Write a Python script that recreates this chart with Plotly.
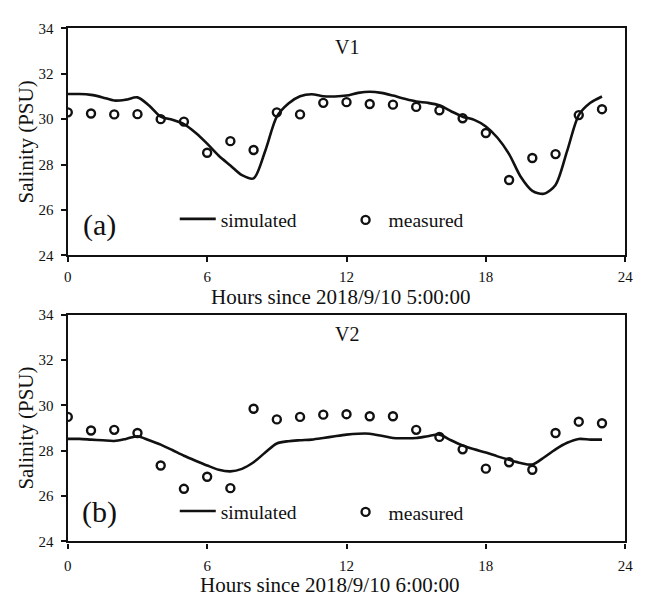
import plotly.graph_objects as go

hours_meas = list(range(24))
v1_measured = [30.30, 30.25, 30.21, 30.22, 30.00, 29.89, 28.52, 29.03, 28.64, 30.30,
               30.21, 30.72, 30.75, 30.67, 30.64, 30.54, 30.39, 30.04, 29.39, 27.32,
               28.29, 28.46, 30.18, 30.44]
v2_measured = [29.49, 28.89, 28.92, 28.78, 27.35, 26.32, 26.85, 26.35, 29.85, 29.38,
               29.49, 29.59, 29.61, 29.52, 29.52, 28.92, 28.61, 28.06, 27.21, 27.49,
               27.16, 28.78, 29.28, 29.21]

hours_sim = [i * 0.5 for i in range(47)]
v1_simulated = [31.11, 31.11, 31.07, 30.96, 30.82, 30.86, 30.96, 30.60, 30.11, 29.97,
                29.78, 29.40, 28.92, 28.39, 27.96, 27.53, 27.39, 28.60, 30.11, 30.69,
                31.01, 31.10, 31.01, 31.00, 31.04, 31.16, 31.21, 31.16, 31.04, 30.90,
                30.78, 30.72, 30.61, 30.35, 30.11, 29.97, 29.68, 29.18, 28.46, 27.46,
                26.84, 26.71, 27.10, 28.60, 30.18, 30.72, 31.00]
v2_simulated = [28.52, 28.52, 28.49, 28.46, 28.43, 28.52, 28.64, 28.46, 28.27, 28.03,
                27.78, 27.56, 27.35, 27.16, 27.09, 27.20, 27.49, 27.92, 28.32, 28.42,
                28.46, 28.49, 28.56, 28.64, 28.71, 28.75, 28.75, 28.66, 28.56, 28.55,
                28.56, 28.64, 28.71, 28.46, 28.23, 28.06, 27.92, 27.75, 27.60, 27.46,
                27.39, 27.70, 28.06, 28.35, 28.52, 28.49, 28.49]

x_ticks = [0, 6, 12, 18, 24]
y_ticks = [24, 26, 28, 30, 32, 34]
panel_titles = ["V1", "V2"]
panel_labels = ["(a)", "(b)"]
x_titles = ["Hours since 2018/9/10 5:00:00", "Hours since 2018/9/10 6:00:00"]
y_title = "Salinity (PSU)"

W, H = 645, 602
FONT = "Times New Roman, Liberation Serif, DejaVu Serif, serif"
BLACK = "#111111"

def px_x(p):
    return p / W

def px_y(p):
    return 1 - p / H

fig = go.Figure()

panels = [
    dict(xa="x", ya="y", sim=v1_simulated, meas=v1_measured, lg1="legend", lg2="legend2"),
    dict(xa="x2", ya="y2", sim=v2_simulated, meas=v2_measured, lg1="legend3", lg2="legend4"),
]
for p in panels:
    fig.add_trace(go.Scatter(x=hours_sim, y=p["sim"], mode="lines", name="simulated",
                             line=dict(color=BLACK, width=2.6, shape="spline", smoothing=0.8),
                             xaxis=p["xa"], yaxis=p["ya"], legend=p["lg1"], showlegend=True))
    fig.add_trace(go.Scatter(x=hours_meas, y=p["meas"], mode="markers", name="measured",
                             marker=dict(symbol="circle-open", size=8, color=BLACK,
                                         line=dict(width=2.4, color=BLACK)),
                             xaxis=p["xa"], yaxis=p["ya"], legend=p["lg2"], showlegend=True))

xdom = [px_x(65), px_x(633)]
ydoms = [[px_y(254), px_y(21)], [px_y(548), px_y(315)]]

axis_common = dict(showgrid=False, zeroline=False, showline=True, linecolor=BLACK,
                   linewidth=2.4, mirror=True, ticks="outside", ticklen=5, tickwidth=1.5,
                   tickcolor=BLACK, tickfont=dict(family=FONT, size=15, color=BLACK))

layout = dict(
    width=W, height=H, margin=dict(l=0, r=0, t=0, b=0),
    paper_bgcolor="white", plot_bgcolor="white",
    font=dict(family=FONT, color=BLACK),
    showlegend=True,
)
for i, (xa, ya) in enumerate([("xaxis", "yaxis"), ("xaxis2", "yaxis2")]):
    anchor_y = "y" if i == 0 else "y2"
    anchor_x = "x" if i == 0 else "x2"
    layout[xa] = dict(domain=xdom, anchor=anchor_y, range=[0, 24], tickvals=x_ticks,
                      ticklabelstandoff=2 + 2 * i, **axis_common)
    layout[ya] = dict(domain=ydoms[i], anchor=anchor_x, range=[24, 34], tickvals=y_ticks,
                      ticklabelstandoff=4, **axis_common)

leg_common = dict(orientation="h", bgcolor="rgba(0,0,0,0)", borderwidth=0,
                  font=dict(family=FONT, size=19.5, color=BLACK),
                  xanchor="left", yanchor="middle", itemwidth=36)
layout["legend"] = dict(x=px_x(174), y=px_y(217), **leg_common)
layout["legend2"] = dict(x=px_x(345), y=px_y(218), **leg_common)
layout["legend3"] = dict(x=px_x(174), y=px_y(517), **leg_common)
layout["legend4"] = dict(x=px_x(345), y=px_y(518), **leg_common)

annotations = []
title_y = [40, 335]
label_y = [223, 518]
xt_x = [343, 332]
xt_y = [297, 593]
yt_y = [137.5, 431.5]
for i in range(2):
    annotations.append(dict(text=panel_titles[i], x=px_x(349), y=px_y(title_y[i]), xref="paper",
                            yref="paper", showarrow=False, font=dict(family=FONT, size=20),
                            xanchor="center", yanchor="middle"))
    annotations.append(dict(text=panel_labels[i], x=px_x(97.5), y=px_y(label_y[i]), xref="paper",
                            yref="paper", showarrow=False, font=dict(family=FONT, size=30),
                            xanchor="center", yanchor="middle"))
    annotations.append(dict(text=x_titles[i], x=px_x(xt_x[i]), y=px_y(xt_y[i]), xref="paper",
                            yref="paper", showarrow=False, font=dict(family=FONT, size=21),
                            xanchor="center", yanchor="middle"))
    annotations.append(dict(text=y_title, x=px_x(22), y=px_y(yt_y[i]),
                            xref="paper", yref="paper", showarrow=False, textangle=-90,
                            font=dict(family=FONT, size=21), xanchor="center", yanchor="middle"))
layout["annotations"] = annotations

fig.update_layout(**layout)
fig.write_html("out.html")
